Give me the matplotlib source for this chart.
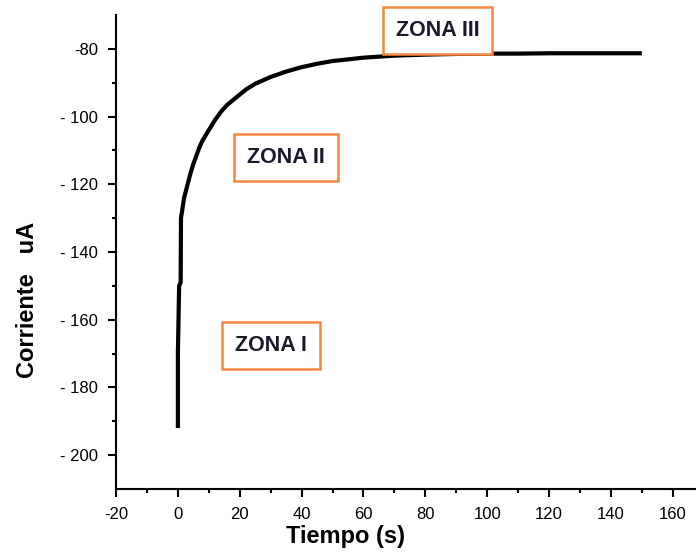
import matplotlib
matplotlib.use("Agg")
from matplotlib import pyplot as plt

plt.rcParams['font.family'] = ['Liberation Sans', 'DejaVu Sans']
plt.rcParams['axes.unicode_minus'] = False

# current vs time
tiempo = [0, 0, 0.4, 0.9, 1.0, 2, 3, 4, 5, 6, 7, 8, 10, 12, 14, 16, 18, 20, 22, 25,
          30, 35, 40, 45, 50, 55, 60, 65, 70, 80, 90, 100, 110, 120, 130, 140, 150]
corriente = [-192, -170, -150, -149, -130, -124, -120.5, -117, -114, -111.5, -109, -107,
             -104, -101, -98.5, -96.5, -95, -93.5, -92, -90.3, -88.3, -86.7, -85.4,
             -84.4, -83.6, -83.1, -82.6, -82.3, -82.0, -81.7, -81.5, -81.4, -81.4,
             -81.3, -81.3, -81.3, -81.3]

yticks = [-80, -100, -120, -140, -160, -180, -200]
ylabels = ['-80', '- 100', '- 120', '- 140', '- 160', '- 180', '- 200']
xticks = [-20, 0, 20, 40, 60, 80, 100, 120, 140, 160]

zonas = ['ZONA I', 'ZONA II', 'ZONA III']
zona_x = [30, 35, 84]
zona_y = [-167.5, -112.2, -74.6]

fig = plt.figure(figsize=(6.96, 5.54), dpi=100)
ax = fig.add_axes([0.1667, 0.1173, 0.8333, 0.8556])

ax.plot(tiempo, corriente, color='black', lw=3, solid_capstyle='butt')

ax.set_xlim(-20, 167.5)
ax.set_ylim(-210, -70)
ax.spines['top'].set_visible(False)
ax.spines['right'].set_visible(False)
ax.spines['left'].set_linewidth(1.5)
ax.spines['bottom'].set_linewidth(1.5)

ax.set_xticks(xticks)
ax.set_xticks(range(-10, 170, 20), minor=True)
ax.set_yticks(yticks)
ax.set_yticklabels(ylabels)
ax.set_yticks(range(-90, -210, -20), minor=True)
ax.tick_params(which='major', length=6, width=1.5, labelsize=12, pad=7, colors='black')
ax.tick_params(which='minor', length=3, width=1.5)

for z, x, y in zip(zonas, zona_x, zona_y):
    ax.text(x, y, z, ha='center', va='center', fontsize=15.5, fontweight='bold',
            color='#1a1a2a', clip_on=False,
            bbox=dict(boxstyle='square,pad=0.6', fc='white', ec='#f4883c', lw=1.8))

fig.text(345 / 696, 1 - 537 / 554, 'Tiempo (s)', ha='center', va='center',
         fontsize=17, fontweight='bold')
fig.text(28 / 696, 1 - 300 / 554, 'Corriente   uA', ha='center', va='center',
         rotation=90, fontsize=17, fontweight='bold')

fig.savefig('out.png', dpi=100)
